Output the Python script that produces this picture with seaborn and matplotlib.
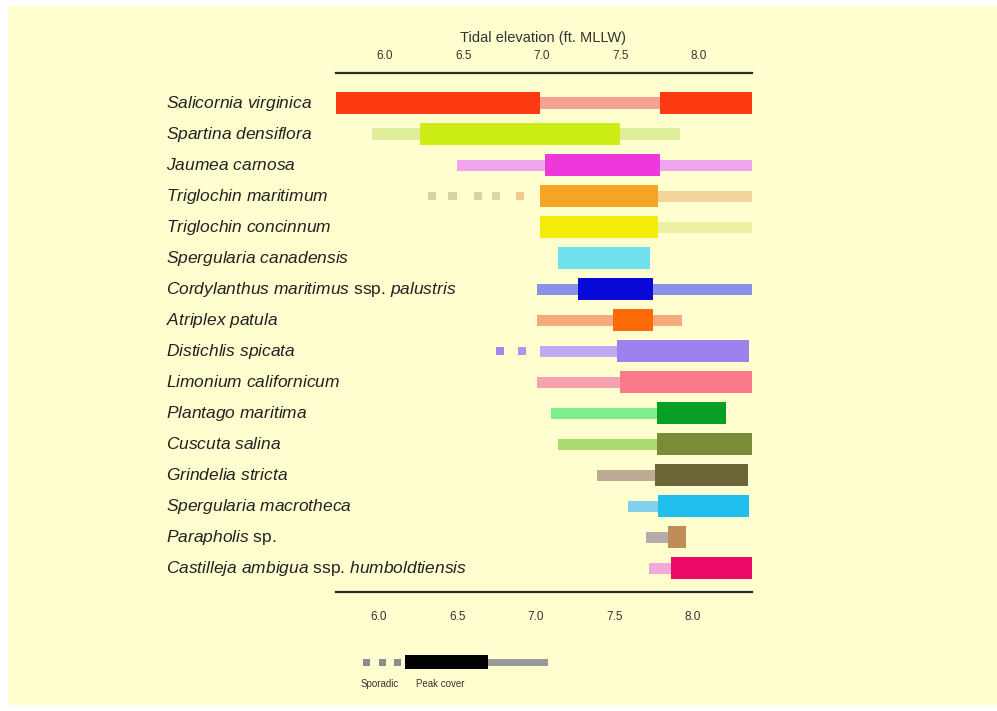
import matplotlib
matplotlib.use("Agg")
import matplotlib.pyplot as plt
import matplotlib.transforms as mtransforms
from matplotlib.patches import Rectangle
import seaborn as sns

# ---------------- data ----------------
species = [
    r"$\mathit{Salicornia\ virginica}$",
    r"$\mathit{Spartina\ densiflora}$",
    r"$\mathit{Jaumea\ carnosa}$",
    r"$\mathit{Triglochin\ maritimum}$",
    r"$\mathit{Triglochin\ concinnum}$",
    r"$\mathit{Spergularia\ canadensis}$",
    r"$\mathit{Cordylanthus\ maritimus}$ ssp. $\mathit{palustris}$",
    r"$\mathit{Atriplex\ patula}$",
    r"$\mathit{Distichlis\ spicata}$",
    r"$\mathit{Limonium\ californicum}$",
    r"$\mathit{Plantago\ maritima}$",
    r"$\mathit{Cuscuta\ salina}$",
    r"$\mathit{Grindelia\ stricta}$",
    r"$\mathit{Spergularia\ macrotheca}$",
    r"$\mathit{Parapholis}$ sp.",
    r"$\mathit{Castilleja\ ambigua}$ ssp. $\mathit{humboldtiensis}$",
]
range_lo = [5.69, 5.92, 6.46, 6.99, 6.99, 7.10, 6.97, 6.97, 6.99, 6.97, 7.06, 7.10, 7.35, 7.55, 7.66, 7.68]
range_hi = [8.34, 7.88, 8.35, 8.34, 8.34, 7.69, 8.34, 7.89, 8.32, 8.35, 8.17, 8.34, 8.31, 8.32, 7.92, 8.34]
peak_lo = [5.69, 6.22, 7.02, 6.99, 6.99, 7.10, 7.23, 7.45, 7.48, 7.50, 7.73, 7.73, 7.72, 7.74, 7.80, 7.82]
peak_hi = [6.99, 7.50, 7.75, 7.74, 7.74, 7.69, 7.71, 7.71, 8.32, 8.35, 8.17, 8.34, 8.31, 8.32, 7.92, 8.34]
# second peak-cover segment (Salicornia only)
peak2_lo = [7.75] + [None] * 15
peak2_hi = [8.34] + [None] * 15
# sporadic occurrences
sporadic_species = [3, 3, 3, 3, 3, 8, 8]
sporadic_x = [6.30, 6.43, 6.59, 6.71, 6.86, 6.73, 6.87]

peak_colors = ["#fd3a12", "#ccee14", "#ee38dc", "#f6a624", "#f6ec0a", "#6ee0ee",
               "#0a0ad8", "#fd6a0a", "#9c82ee", "#fc7a8c", "#08a024", "#7a8c38",
               "#6b6538", "#20bfee", "#c08c58", "#ec0a66"]
range_colors = ["#f5a292", "#e0ee9c", "#f0a4ee", "#f4d49c", "#eef0a4", "#6ee0ee",
                "#8a92e8", "#f4aa7c", "#bcaaf2", "#f4a2b2", "#7cee8c", "#a8dc6c",
                "#bcaa92", "#82d0ee", "#b8aaa8", "#f2aad8"]
sporadic_colors = ["#d8d6a0", "#d4d4a0", "#d8d49c", "#dcd6a0", "#f0c890", "#9c8aee", "#a898ee"]

ticks = [6.0, 6.5, 7.0, 7.5, 8.0]
tick_labels = ["6.0", "6.5", "7.0", "7.5", "8.0"]
axis_title = "Tidal elevation (ft. MLLW)"

# ---------------- style ----------------
sns.set_theme(style="white")
plt.rcParams["font.family"] = ["Liberation Sans", "DejaVu Sans"]
plt.rcParams["mathtext.fontset"] = "custom"
plt.rcParams["mathtext.it"] = "Liberation Sans:italic"
plt.rcParams["mathtext.rm"] = "Liberation Sans"
plt.rcParams["mathtext.sf"] = "Liberation Sans"

W, H = 997, 711
fig = plt.figure(figsize=(W / 100, H / 100), dpi=100, facecolor="white")
# pale yellow panel with small white margins
fig.add_artist(Rectangle((8 / W, 6 / H), 1 - 8 / W, 1 - 12 / H, transform=fig.transFigure,
                         facecolor="#fefecf", edgecolor="none", zorder=-10))

ax = fig.add_axes([336 / W, 1 - 592 / H, (752 - 336) / W, (592 - 73) / H])
ax.set_facecolor("none")
ax.set_xlim(5.688, 8.338)
ax.set_ylim(15.77, -0.97)

thick_h = 0.72
thin_h = 0.36
for i in range(len(species)):
    ax.barh(i, range_hi[i] - range_lo[i], left=range_lo[i], height=thin_h,
            color=range_colors[i], edgecolor="none", zorder=2)
    ax.barh(i, peak_hi[i] - peak_lo[i], left=peak_lo[i], height=thick_h,
            color=peak_colors[i], edgecolor="none", zorder=3)
    if peak2_lo[i] is not None:
        ax.barh(i, peak2_hi[i] - peak2_lo[i], left=peak2_lo[i], height=thick_h,
                color=peak_colors[i], edgecolor="none", zorder=3)

ax.scatter(sporadic_x, sporadic_species, marker="s", s=34, c=sporadic_colors,
           edgecolors="none", zorder=3)

# species labels
trans = mtransforms.blended_transform_factory(fig.transFigure, ax.transData)
for i, name in enumerate(species):
    ax.text(166 / W, i, name, transform=trans, ha="left", va="center",
            fontsize=12.5, color="#222222")

# axes: top ticks + bottom ticks (bottom slightly offset as in the print)
for s in ["left", "right", "bottom"]:
    ax.spines[s].set_visible(False)
ax.spines["top"].set_visible(True)
ax.spines["top"].set_color("#2b2b2b")
ax.spines["top"].set_linewidth(1.6)
ax.set_yticks([])
ax.set_xticks(ticks)
ax.set_xticklabels(tick_labels)
ax.tick_params(axis="x", bottom=False, labelbottom=False, top=True, labeltop=True,
               length=0, pad=8, labelsize=8.5, labelcolor="#333333")

sec = ax.secondary_xaxis("bottom", functions=(lambda x: x + 0.04, lambda x: x - 0.04))
sec.set_xticks(ticks)
sec.set_xticklabels(tick_labels)
sec.tick_params(axis="x", length=0, pad=14, labelsize=8.5, labelcolor="#333333")
sec.spines["bottom"].set_color("#2b2b2b")
sec.spines["bottom"].set_linewidth(1.6)

fig.text(543 / W, 1 - 38 / H, axis_title, ha="center", va="center",
         fontsize=10.5, color="#333333")

# key
lg = fig.add_axes([0, 0, 1, 1], facecolor="none")
lg.set_xlim(0, W)
lg.set_ylim(H, 0)
lg.axis("off")
for cx in [366, 382, 397]:
    lg.add_patch(Rectangle((cx - 3.5, 658.5), 7, 7, facecolor="#8c8c8c", edgecolor="none"))
lg.add_patch(Rectangle((488, 658.5), 60, 7, facecolor="#999999", edgecolor="none"))
lg.add_patch(Rectangle((405, 655), 83, 14, facecolor="#000000", edgecolor="none"))
lg.text(361, 684, "Sporadic", fontsize=7, color="#333333", va="center", ha="left")
lg.text(416, 684, "Peak cover", fontsize=7, color="#333333", va="center", ha="left")

fig.savefig("out.png", dpi=100, facecolor=fig.get_facecolor())
